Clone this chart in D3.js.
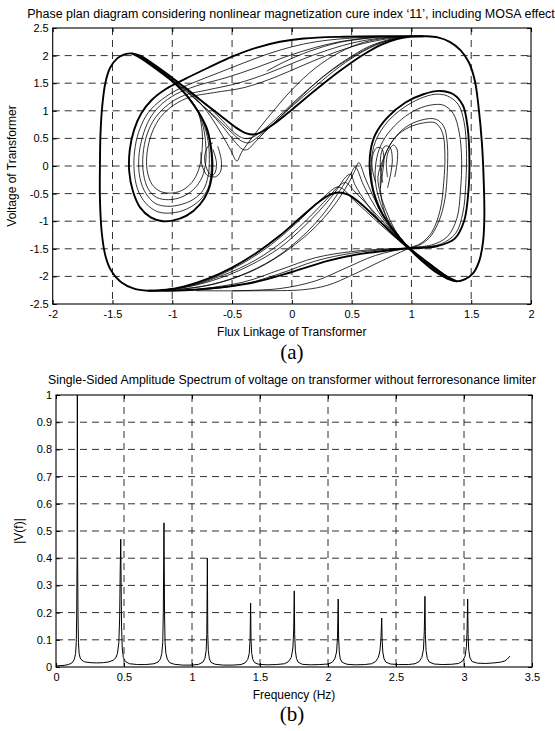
<!DOCTYPE html>
<html><head><meta charset="utf-8">
<script src="https://cdn.jsdelivr.net/npm/d3@7"></script>
<style>body{margin:0;background:#fff}svg{display:block}text{fill:#000}</style>
</head><body>
<script>
// ---------------- DATA ----------------
const phaseTitle = "Phase plan diagram considering nonlinear magnetization cure index \u201811\u2019, including MOSA effect";
const phaseXLabel = "Flux Linkage of Transformer";
const phaseYLabel = "Voltage of Transformer";
const phaseXTicks = [-2,-1.5,-1,-0.5,0,0.5,1,1.5,2];
const phaseYTicks = [-2.5,-2,-1.5,-1,-0.5,0,0.5,1,1.5,2,2.5];

const specTitle = "Single-Sided Amplitude Spectrum of voltage on transformer without ferroresonance limiter";
const specXLabel = "Frequency (Hz)";
const specYLabel = "|V(f)|";
const specXTicks = [0,0.5,1,1.5,2,2.5,3,3.5];
const specYTicks = [0,0.1,0.2,0.3,0.4,0.5,0.6,0.7,0.8,0.9,1];

// bold trajectory passes [flux, voltage]
const outerLoop = [[-1.2,-2.26],[-1.32,-2.22],[-1.43,-2.1],[-1.51,-1.9],[-1.56,-1.62],[-1.59,-1.2],[-1.605,-0.6],[-1.605,0.0],[-1.6,0.6],[-1.585,1.1],[-1.56,1.5],[-1.52,1.78],[-1.46,1.95],[-1.4,2.02],[-1.34,2.04],[-1.27,2.0],[-1.18,1.88],[-1.05,1.68],[-0.9,1.43],[-0.75,1.17],[-0.6,0.92],[-0.47,0.7],[-0.38,0.59],[-0.32,0.57],[-0.26,0.61],[-0.15,0.76],[0.0,1.02],[0.2,1.38],[0.4,1.72],[0.6,2.02],[0.75,2.2],[0.88,2.3],[1.0,2.345],[1.12,2.35],[1.22,2.33],[1.32,2.25],[1.41,2.1],[1.48,1.88],[1.53,1.55],[1.56,1.1],[1.59,0.4],[1.605,-0.3],[1.61,-0.9],[1.6,-1.35],[1.57,-1.7],[1.52,-1.93],[1.45,-2.05],[1.38,-2.09],[1.31,-2.05],[1.21,-1.93],[1.1,-1.74],[0.99,-1.52],[0.85,-1.24],[0.7,-0.93],[0.57,-0.67],[0.47,-0.52],[0.39,-0.48],[0.32,-0.52],[0.22,-0.66],[0.08,-0.92],[-0.1,-1.26],[-0.3,-1.58],[-0.5,-1.84],[-0.7,-2.04],[-0.9,-2.18],[-1.05,-2.24],[-1.2,-2.26]];
const steepLeft = [[-1.34,2.04],[-1.26,1.95],[-1.16,1.8],[-1.05,1.62],[-0.97,1.48],[-0.89,1.3],[-0.82,1.1],[-0.76,0.9],[-0.71,0.68],[-0.68,0.4],[-0.665,0.1],[-0.67,-0.2],[-0.7,-0.45],[-0.77,-0.7],[-0.88,-0.9],[-1.0,-0.99],[-1.08,-1.0],[-1.18,-0.93],[-1.27,-0.75],[-1.33,-0.45],[-1.36,-0.1],[-1.355,0.3],[-1.32,0.65],[-1.26,0.95],[-1.17,1.2],[-1.05,1.4],[-0.9,1.57],[-0.7,1.78],[-0.5,1.98],[-0.3,2.14],[-0.1,2.25],[0.1,2.31],[0.4,2.34],[0.8,2.35],[1.1,2.35]];
const steepRight = [[1.38,-2.09],[1.28,-1.98],[1.18,-1.82],[1.07,-1.64],[0.99,-1.5],[0.9,-1.3],[0.82,-1.08],[0.75,-0.85],[0.7,-0.6],[0.665,-0.3],[0.65,0.0],[0.66,0.3],[0.7,0.58],[0.8,0.88],[0.95,1.15],[1.1,1.3],[1.24,1.36],[1.35,1.3],[1.43,1.1],[1.47,0.7],[1.485,0.1],[1.475,-0.5],[1.44,-1.0],[1.36,-1.32],[1.22,-1.45],[1.1,-1.48],[0.99,-1.49],[0.8,-1.53],[0.55,-1.6],[0.3,-1.72],[0.0,-1.92],[-0.3,-2.1],[-0.6,-2.2],[-0.9,-2.25],[-1.2,-2.26]];

// thin trajectory passes
const vDip2 = [[-1.3,2.0],[-1.2,1.86],[-1.05,1.64],[-0.9,1.38],[-0.75,1.1],[-0.62,0.85],[-0.5,0.6],[-0.42,0.45],[-0.36,0.42],[-0.3,0.5],[-0.18,0.72],[0.0,1.08],[0.2,1.45],[0.4,1.8],[0.6,2.08],[0.8,2.27],[0.98,2.34]];
const vDip3 = [[-1.28,1.98],[-1.15,1.8],[-1.0,1.57],[-0.85,1.3],[-0.7,1.0],[-0.58,0.72],[-0.48,0.45],[-0.41,0.3],[-0.37,0.3],[-0.3,0.45],[-0.15,0.78],[0.05,1.2],[0.25,1.6],[0.45,1.92],[0.65,2.17],[0.85,2.31],[1.0,2.35]];
const vDip4 = [[-1.25,1.95],[-1.1,1.74],[-0.95,1.5],[-0.8,1.22],[-0.68,0.9],[-0.58,0.55],[-0.51,0.28],[-0.46,0.09],[-0.42,0.25],[-0.32,0.55],[-0.18,0.93],[0.0,1.38],[0.2,1.78],[0.4,2.06],[0.6,2.24],[0.8,2.32],[1.0,2.35]];
const vDip5 = [[-0.9,1.45],[-0.72,1.12],[-0.58,0.82],[-0.48,0.6],[-0.4,0.5],[-0.33,0.52],[-0.24,0.65],[-0.1,0.92],[0.1,1.32],[0.3,1.68],[0.5,1.97],[0.7,2.2],[0.9,2.32]];
const leftOval1 = [[-1.3,2.01],[-1.18,1.84],[-1.04,1.6],[-0.92,1.37],[-0.82,1.12],[-0.75,0.86],[-0.7,0.55],[-0.675,0.22],[-0.675,-0.1],[-0.7,-0.4],[-0.77,-0.62],[-0.88,-0.78],[-1.0,-0.85],[-1.12,-0.83],[-1.22,-0.68],[-1.29,-0.42],[-1.32,-0.05],[-1.31,0.35],[-1.27,0.68],[-1.2,0.97],[-1.09,1.2],[-0.96,1.38],[-0.8,1.53],[-0.6,1.7],[-0.4,1.87],[-0.2,2.03],[0.0,2.16],[0.2,2.25],[0.45,2.31],[0.75,2.34],[1.0,2.35]];
const leftOval2 = [[-1.28,1.99],[-1.15,1.8],[-1.02,1.57],[-0.9,1.33],[-0.8,1.06],[-0.74,0.78],[-0.7,0.45],[-0.69,0.12],[-0.7,-0.18],[-0.74,-0.43],[-0.82,-0.6],[-0.93,-0.7],[-1.04,-0.73],[-1.14,-0.68],[-1.22,-0.5],[-1.27,-0.22],[-1.28,0.15],[-1.25,0.52],[-1.19,0.85],[-1.1,1.1],[-0.97,1.3],[-0.8,1.45],[-0.55,1.6],[-0.3,1.78],[-0.05,1.98],[0.2,2.15],[0.45,2.27],[0.7,2.33],[0.95,2.35]];
const leftOval3 = [[-1.25,1.96],[-1.12,1.77],[-0.99,1.53],[-0.88,1.28],[-0.79,1.0],[-0.74,0.7],[-0.72,0.38],[-0.72,0.08],[-0.75,-0.2],[-0.82,-0.42],[-0.92,-0.56],[-1.03,-0.61],[-1.13,-0.57],[-1.2,-0.42],[-1.24,-0.15],[-1.245,0.2],[-1.21,0.58],[-1.14,0.88],[-1.03,1.12],[-0.9,1.28],[-0.7,1.38],[-0.45,1.5],[-0.2,1.68],[0.05,1.9],[0.3,2.1],[0.55,2.25],[0.8,2.33],[1.0,2.35]];
const leftOval4 = [[-1.22,1.93],[-1.1,1.74],[-0.97,1.5],[-0.86,1.24],[-0.78,0.95],[-0.75,0.62],[-0.75,0.3],[-0.77,0.0],[-0.82,-0.25],[-0.9,-0.42],[-1.0,-0.49],[-1.1,-0.46],[-1.17,-0.33],[-1.21,-0.08],[-1.21,0.25],[-1.17,0.6],[-1.1,0.88],[-0.99,1.1],[-0.85,1.25],[-0.65,1.33],[-0.4,1.42],[-0.15,1.6],[0.1,1.83],[0.35,2.05],[0.6,2.22],[0.85,2.32],[1.0,2.35]];
const leftSmall1 = [[-0.62,0.36],[-0.59,0.1],[-0.6,-0.12],[-0.65,-0.2],[-0.7,-0.1],[-0.73,0.15],[-0.7,0.36],[-0.66,0.42]];
const leftSmall2 = [[-0.66,0.3],[-0.63,0.05],[-0.65,-0.15],[-0.7,-0.18],[-0.75,0.0],[-0.76,0.25]];
const startArc = [[-0.21,1.72],[-0.05,1.9],[0.15,2.08],[0.4,2.24],[0.7,2.33]];

const peakDip2 = [[1.34,-2.07],[1.2,-1.86],[1.05,-1.62],[0.9,-1.36],[0.75,-1.08],[0.62,-0.82],[0.5,-0.58],[0.43,-0.42],[0.38,-0.38],[0.32,-0.46],[0.2,-0.7],[0.03,-1.05],[-0.17,-1.42],[-0.4,-1.75],[-0.65,-2.02],[-0.9,-2.19],[-1.15,-2.26]];
const peakDip3 = [[1.32,-2.06],[1.18,-1.84],[1.02,-1.58],[0.87,-1.3],[0.73,-0.98],[0.62,-0.66],[0.53,-0.35],[0.49,-0.15],[0.45,-0.2],[0.38,-0.42],[0.26,-0.74],[0.1,-1.1],[-0.1,-1.48],[-0.35,-1.8],[-0.6,-2.03],[-0.85,-2.18],[-1.1,-2.25]];
const peakDip4 = [[1.3,-2.05],[1.15,-1.8],[1.0,-1.52],[0.86,-1.2],[0.75,-0.85],[0.67,-0.5],[0.61,-0.2],[0.56,0.06],[0.52,-0.12],[0.45,-0.4],[0.33,-0.78],[0.15,-1.2],[-0.1,-1.62],[-0.35,-1.92],[-0.65,-2.14],[-0.95,-2.24]];
const peakDip5 = [[1.25,-1.95],[1.1,-1.7],[0.95,-1.42],[0.82,-1.12],[0.7,-0.75],[0.6,-0.35],[0.53,-0.02],[0.49,-0.15],[0.4,-0.45],[0.27,-0.85],[0.1,-1.25],[-0.15,-1.68],[-0.45,-2.0],[-0.75,-2.18],[-1.05,-2.25]];
const peakDip6 = [[1.36,-2.08],[1.22,-1.88],[1.08,-1.65],[0.93,-1.38],[0.78,-1.05],[0.64,-0.72],[0.52,-0.45],[0.45,-0.3],[0.4,-0.35],[0.3,-0.58],[0.15,-0.92],[-0.05,-1.32],[-0.3,-1.7],[-0.6,-2.0],[-0.9,-2.2],[-1.15,-2.26]];
const rightOval1 = [[1.36,-2.08],[1.25,-1.96],[1.13,-1.76],[1.0,-1.52],[0.9,-1.28],[0.8,-1.0],[0.73,-0.72],[0.68,-0.4],[0.665,-0.1],[0.67,0.2],[0.71,0.5],[0.8,0.8],[0.93,1.05],[1.07,1.22],[1.2,1.3],[1.3,1.27],[1.39,1.12],[1.44,0.8],[1.46,0.3],[1.455,-0.3],[1.43,-0.85],[1.37,-1.22],[1.25,-1.41],[1.1,-1.47],[0.99,-1.49],[0.8,-1.51],[0.5,-1.58],[0.2,-1.72],[-0.1,-1.95],[-0.4,-2.14],[-0.7,-2.23],[-1.0,-2.26]];
const rightOval2 = [[1.33,-2.07],[1.22,-1.93],[1.1,-1.72],[0.98,-1.48],[0.88,-1.22],[0.79,-0.92],[0.73,-0.6],[0.7,-0.3],[0.7,0.0],[0.73,0.3],[0.8,0.58],[0.92,0.85],[1.05,1.03],[1.18,1.11],[1.27,1.1],[1.35,0.95],[1.4,0.6],[1.42,0.1],[1.41,-0.45],[1.38,-0.95],[1.3,-1.28],[1.17,-1.43],[0.99,-1.48],[0.7,-1.62],[0.45,-1.85],[0.2,-2.08],[-0.1,-2.22],[-0.5,-2.26]];
const rightOval3 = [[1.3,-2.05],[1.18,-1.88],[1.06,-1.66],[0.95,-1.42],[0.86,-1.15],[0.79,-0.82],[0.74,-0.5],[0.72,-0.2],[0.76,0.1],[0.84,0.45],[0.95,0.7],[1.08,0.83],[1.2,0.85],[1.27,0.72],[1.3,0.4],[1.3,-0.1],[1.28,-0.6],[1.23,-1.0],[1.15,-1.3],[1.06,-1.44],[0.99,-1.48],[0.8,-1.5],[0.5,-1.55],[0.2,-1.66],[-0.1,-1.88],[-0.4,-2.1],[-0.8,-2.24]];
const rightOval4 = [[0.99,-1.48],[0.88,-1.26],[0.8,-0.98],[0.75,-0.6],[0.74,-0.25],[0.76,0.05],[0.8,0.3],[0.88,0.55],[0.98,0.7],[1.1,0.78],[1.2,0.78],[1.26,0.6],[1.28,0.2],[1.27,-0.3],[1.24,-0.8],[1.17,-1.2],[1.08,-1.4],[0.99,-1.48],[0.75,-1.72],[0.5,-1.98],[0.3,-2.16],[0.1,-2.24],[-0.3,-2.26],[-0.8,-2.26]];
const rightSmall1 = [[0.7,-0.3],[0.67,0.0],[0.68,0.22],[0.71,0.33],[0.75,0.32],[0.77,0.15],[0.76,-0.1],[0.74,-0.4]];
const rightSmall2 = [[0.76,-0.3],[0.74,0.0],[0.75,0.25],[0.78,0.36],[0.82,0.34],[0.84,0.15],[0.83,-0.1],[0.8,-0.4]];
const rightSmall3 = [[0.8,-0.2],[0.79,0.05],[0.81,0.28],[0.85,0.38],[0.88,0.3],[0.88,0.05],[0.86,-0.2]];

const boldPasses = [outerLoop, steepLeft, steepRight];
const thinPasses = [vDip2, vDip3, vDip4, vDip5, leftOval1, leftOval2, leftOval3, leftOval4, leftSmall1, leftSmall2, startArc,
  peakDip2, peakDip3, peakDip4, peakDip5, peakDip6, rightOval1, rightOval2, rightOval3, rightOval4, rightSmall1, rightSmall2, rightSmall3];

// spectrum [frequency Hz, |V(f)|]
const spectrum = [[0.000,0.004],[0.03,0.005],[0.06,0.006],[0.09,0.009],[0.11,0.013],[0.125,0.019],[0.136,0.03],[0.144,0.05],[0.149,0.09],[0.152,0.18],[0.155,0.4],[0.157,1.05],[0.159,0.4],[0.162,0.18],[0.165,0.09],[0.17,0.05],[0.178,0.033],[0.19,0.025],[0.21,0.019],[0.25,0.016],[0.30,0.015],[0.35,0.016],[0.39,0.019],[0.42,0.025],[0.44,0.034],[0.452,0.05],[0.462,0.09],[0.468,0.18],[0.472,0.35],[0.476,0.47],[0.479,0.3],[0.482,0.15],[0.487,0.07],[0.495,0.035],[0.51,0.02],[0.54,0.012],[0.60,0.009],[0.66,0.009],[0.72,0.012],[0.75,0.018],[0.768,0.03],[0.778,0.05],[0.785,0.09],[0.789,0.2],[0.794,0.53],[0.798,0.2],[0.802,0.09],[0.808,0.05],[0.818,0.03],[0.835,0.016],[0.87,0.01],[0.93,0.007],[1.0,0.007],[1.05,0.01],[1.08,0.018],[1.095,0.032],[1.104,0.06],[1.109,0.12],[1.113,0.4],[1.116,0.12],[1.12,0.06],[1.128,0.03],[1.14,0.017],[1.17,0.01],[1.23,0.007],[1.3,0.007],[1.36,0.009],[1.39,0.015],[1.41,0.028],[1.421,0.05],[1.427,0.1],[1.431,0.235],[1.434,0.1],[1.439,0.05],[1.447,0.028],[1.46,0.016],[1.49,0.01],[1.55,0.008],[1.62,0.009],[1.68,0.012],[1.71,0.02],[1.73,0.035],[1.742,0.07],[1.748,0.14],[1.752,0.28],[1.755,0.12],[1.76,0.06],[1.768,0.032],[1.78,0.018],[1.81,0.01],[1.87,0.008],[1.94,0.009],[2.0,0.011],[2.03,0.017],[2.05,0.03],[2.063,0.055],[2.07,0.11],[2.075,0.25],[2.078,0.11],[2.083,0.055],[2.09,0.03],[2.105,0.017],[2.14,0.01],[2.2,0.008],[2.27,0.009],[2.32,0.012],[2.35,0.02],[2.37,0.035],[2.382,0.06],[2.389,0.1],[2.395,0.18],[2.398,0.1],[2.403,0.055],[2.412,0.03],[2.425,0.018],[2.46,0.011],[2.52,0.009],[2.59,0.009],[2.64,0.012],[2.67,0.02],[2.69,0.035],[2.702,0.065],[2.708,0.13],[2.713,0.26],[2.716,0.12],[2.721,0.06],[2.73,0.032],[2.745,0.018],[2.78,0.011],[2.84,0.009],[2.91,0.01],[2.96,0.013],[2.99,0.022],[3.008,0.04],[3.018,0.075],[3.023,0.14],[3.027,0.25],[3.03,0.12],[3.035,0.06],[3.044,0.033],[3.06,0.02],[3.1,0.014],[3.16,0.013],[3.22,0.015],[3.27,0.018],[3.3,0.022],[3.32,0.03],[3.338,0.04]];

// ---------------- DRAW ----------------
const W = 555, H = 731;
const SANS = '"Liberation Sans",Arial,sans-serif';
const SERIF = '"Liberation Serif","Times New Roman",serif';
const svg = d3.select("body").append("svg").attr("width", W).attr("height", H);
svg.append("rect").attr("width", W).attr("height", H).attr("fill", "#fff");

function panel(cfg) {
  const {x, y, xTicks, yTicks, id} = cfg;
  const [x0, x1] = x.range(), [y0, y1] = y.range(); // y0 bottom, y1 top
  const g = svg.append("g");
  g.append("clipPath").attr("id", id).append("rect")
    .attr("x", x0).attr("y", y1).attr("width", x1 - x0).attr("height", y0 - y1);
  const grid = g.append("g").attr("stroke", "#1a1a1a").attr("stroke-width", 0.9)
    .attr("stroke-dasharray", "7,5");
  grid.selectAll(".vx").data(xTicks.slice(1, -1)).join("line")
    .attr("x1", d => x(d)).attr("x2", d => x(d)).attr("y1", y1).attr("y2", y0);
  grid.selectAll(".hy").data(yTicks.slice(1, -1)).join("line")
    .attr("y1", d => y(d)).attr("y2", d => y(d)).attr("x1", x0).attr("x2", x1);
  const plot = g.append("g").attr("clip-path", `url(#${id})`);
  const fmt = d => String(d);
  const ax = (gen, tr) => g.append("g").attr("transform", tr).call(gen)
    .call(s => s.select(".domain").remove())
    .call(s => s.selectAll("line").attr("stroke", "#000"))
    .call(s => s.selectAll("text").style("font-size", "11px").style("font-family", SANS).attr("fill", "#000"));
  ax(d3.axisBottom(x).tickValues(xTicks).tickFormat(fmt).tickSize(-4).tickPadding(6), `translate(0,${y0})`);
  ax(d3.axisTop(x).tickValues(xTicks).tickFormat("").tickSize(-4), `translate(0,${y1})`);
  ax(d3.axisLeft(y).tickValues(yTicks).tickFormat(fmt).tickSize(-4).tickPadding(4), `translate(${x0},0)`);
  ax(d3.axisRight(y).tickValues(yTicks).tickFormat("").tickSize(-4), `translate(${x1},0)`);
  g.append("rect").attr("x", x0).attr("y", y1).attr("width", x1 - x0).attr("height", y0 - y1)
    .attr("fill", "none").attr("stroke", "#000").attr("stroke-width", 1.1);
  return plot;
}
function label(x, y, txt, size, family, rot) {
  const t = svg.append("text").attr("text-anchor", "middle")
    .style("font-size", size + "px").style("font-family", family).text(txt);
  if (rot) t.attr("transform", `translate(${x},${y}) rotate(-90)`);
  else t.attr("x", x).attr("y", y);
  return t;
}

// ---- Panel (a): phase plane ----
const xa = d3.scaleLinear().domain([-2, 2]).range([52.7, 531]);
const ya = d3.scaleLinear().domain([-2.5, 2.5]).range([304, 28]);
const pa = panel({x: xa, y: ya, xTicks: phaseXTicks, yTicks: phaseYTicks, id: "clipA"});
const lineA = d3.line().x(d => xa(d[0])).y(d => ya(d[1])).curve(d3.curveCatmullRom.alpha(0.5));
pa.selectAll(".thin").data(thinPasses).join("path").attr("d", lineA)
  .attr("fill", "none").attr("stroke", "#000").attr("stroke-width", 0.8);
pa.selectAll(".bold").data(boldPasses).join("path").attr("d", lineA)
  .attr("fill", "none").attr("stroke", "#000").attr("stroke-width", 1.9);

label(291, 18, phaseTitle, 12.5, SANS);
label(291.8, 336, phaseXLabel, 12, SANS);
label(16, 166, phaseYLabel, 12, SANS, true);
label(291.8, 359, "(a)", 21, SERIF);

// ---- Panel (b): spectrum ----
const xb = d3.scaleLinear().domain([0, 3.5]).range([56, 532]);
const yb = d3.scaleLinear().domain([0, 1]).range([667, 395]);
const pb = panel({x: xb, y: yb, xTicks: specXTicks, yTicks: specYTicks, id: "clipB"});
const lineB = d3.line().x(d => xb(d[0])).y(d => yb(d[1]));
pb.append("path").datum(spectrum).attr("d", lineB)
  .attr("fill", "none").attr("stroke", "#000").attr("stroke-width", 1);

label(292, 384, specTitle, 12.3, SANS);
label(294, 699, specXLabel, 12, SANS);
label(23, 531, specYLabel, 12, SANS, true);
label(292, 721, "(b)", 21, SERIF);
</script>
</body></html>
